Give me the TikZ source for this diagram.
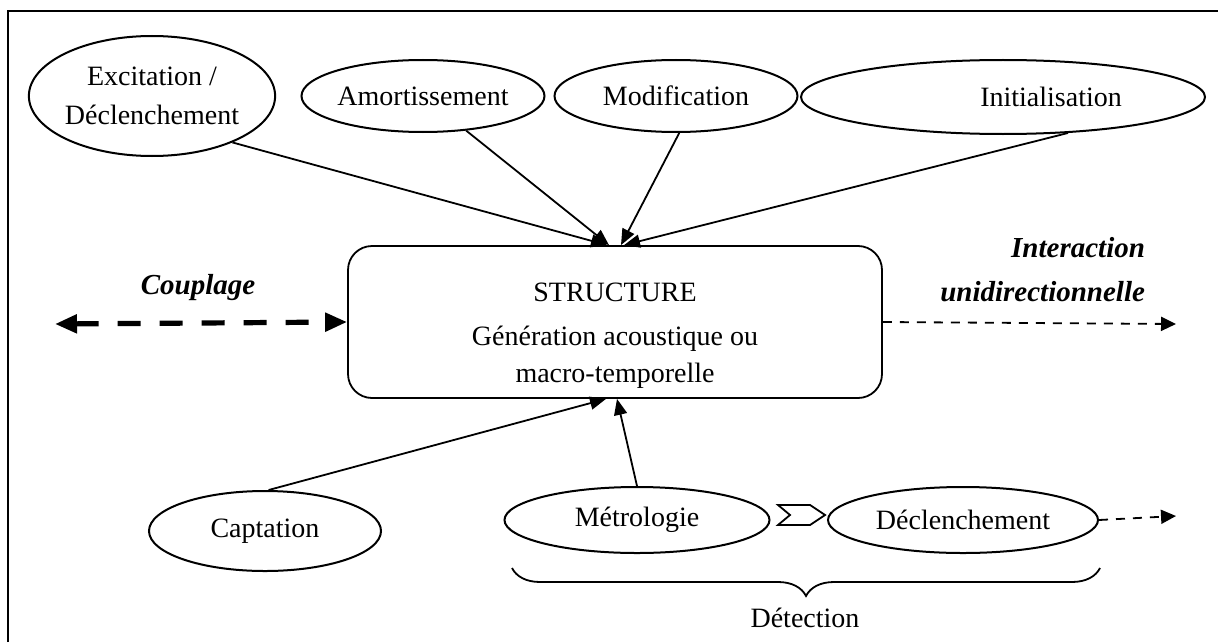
\documentclass[tikz,border=0pt]{standalone}
\usepackage{fontspec}
\setmainfont{Liberation Serif}
\usetikzlibrary{shapes.geometric,arrows.meta,decorations.pathreplacing,calc}
\begin{document}
\begin{tikzpicture}[x=0.5pt,y=-0.5pt,
  font=\fontsize{14}{18.5}\selectfont,
  ell/.style={draw, ellipse, line width=1pt, inner sep=0pt, align=center},
  arr/.style={line width=0.9pt, -{Triangle[length=8pt,width=6.5pt]}},
  thindash/.style={line width=0.9pt, dash pattern=on 4.5pt off 4pt, -{Triangle[length=7.5pt,width=7pt]}},
  thickdash/.style={line width=2.6pt, dash pattern=on 11.5pt off 9.5pt, {Triangle[length=11pt,width=9pt]}-{Triangle[length=11pt,width=9pt]}},
  lbl/.style={font=\fontsize{14.5}{22}\selectfont\bfseries\itshape}]
\useasboundingbox (0,0) rectangle (1218,642);
\draw[line width=1pt] (8,642) -- (8,11) -- (1218,11);

% top ellipses
\node[ell, minimum width=119pt, minimum height=60pt] (exc) at (152,96) {Excitation /\\[1pt]Déclenchement};
\node[ell, minimum width=121.5pt, minimum height=36pt] (am) at (423,96) {Amortissement};
\node[ell, minimum width=121.5pt, minimum height=36pt] (mod) at (676,96) {Modification};
\node[ell, minimum width=202pt, minimum height=37pt] (ini) at (1003,97) {\hspace*{48pt}Initialisation};

% central box
\node[draw, rounded corners=12pt, line width=0.9pt, minimum width=267pt, minimum height=76pt] (s) at (615,322) {};
\node[align=center] (st) at (615,336) {STRUCTURE\\[3.5pt]Génération acoustique ou\\macro-temporelle};

% top arrows
\draw[arr] (exc.-30) -- ([xshift=-4pt]s.north);
\draw[arr] (am) -- ([xshift=-3pt]s.north);
\draw[arr] (mod.-85) -- ([xshift=3pt]s.north);
\draw[arr] (ini.-29) -- ([xshift=4.5pt]s.north);

% couplage
\coordinate (cl) at (55,324);
\draw[thickdash] (cl) -- (s.west);
\node[lbl] (cp) at (198,288) {Couplage};

% interaction
\coordinate (ir) at (1176,324);
\draw[thindash] (s.east) -- (ir);
\node[lbl, align=right, anchor=east] (it) at (1152,270) {Interaction\\unidirectionnelle};

% bottom ellipses
\node[ell, minimum width=116pt, minimum height=40pt] (cap) at (265,531) {Captation};
\node[ell, minimum width=132.5pt, minimum height=33pt] (met) at (637,520) {Métrologie};
\node[ell, minimum width=135pt, minimum height=33pt] (dec) at (963,520) {Déclenchement};

\draw[arr] (cap.85) -- ([xshift=-4.5pt]s.south);
\draw[arr] (met.north) -- ([xshift=1pt]s.south);

% chevron
\draw[line width=0.9pt] (778,505) -- (810,505) -- (825,515) -- (810,525) -- (778,525) -- (790,515) -- cycle;

\coordinate (dr) at (1176,516);
\draw[thindash] (dec.east) -- (dr);

% brace
\coordinate (b1) at (512,568);
\coordinate (b2) at (1100,568);
\draw[line width=0.9pt, decorate, decoration={brace, mirror, amplitude=14pt}] (b1) -- (b2);
\node (det) at (805,618) {Détection};
\end{tikzpicture}
\end{document}
